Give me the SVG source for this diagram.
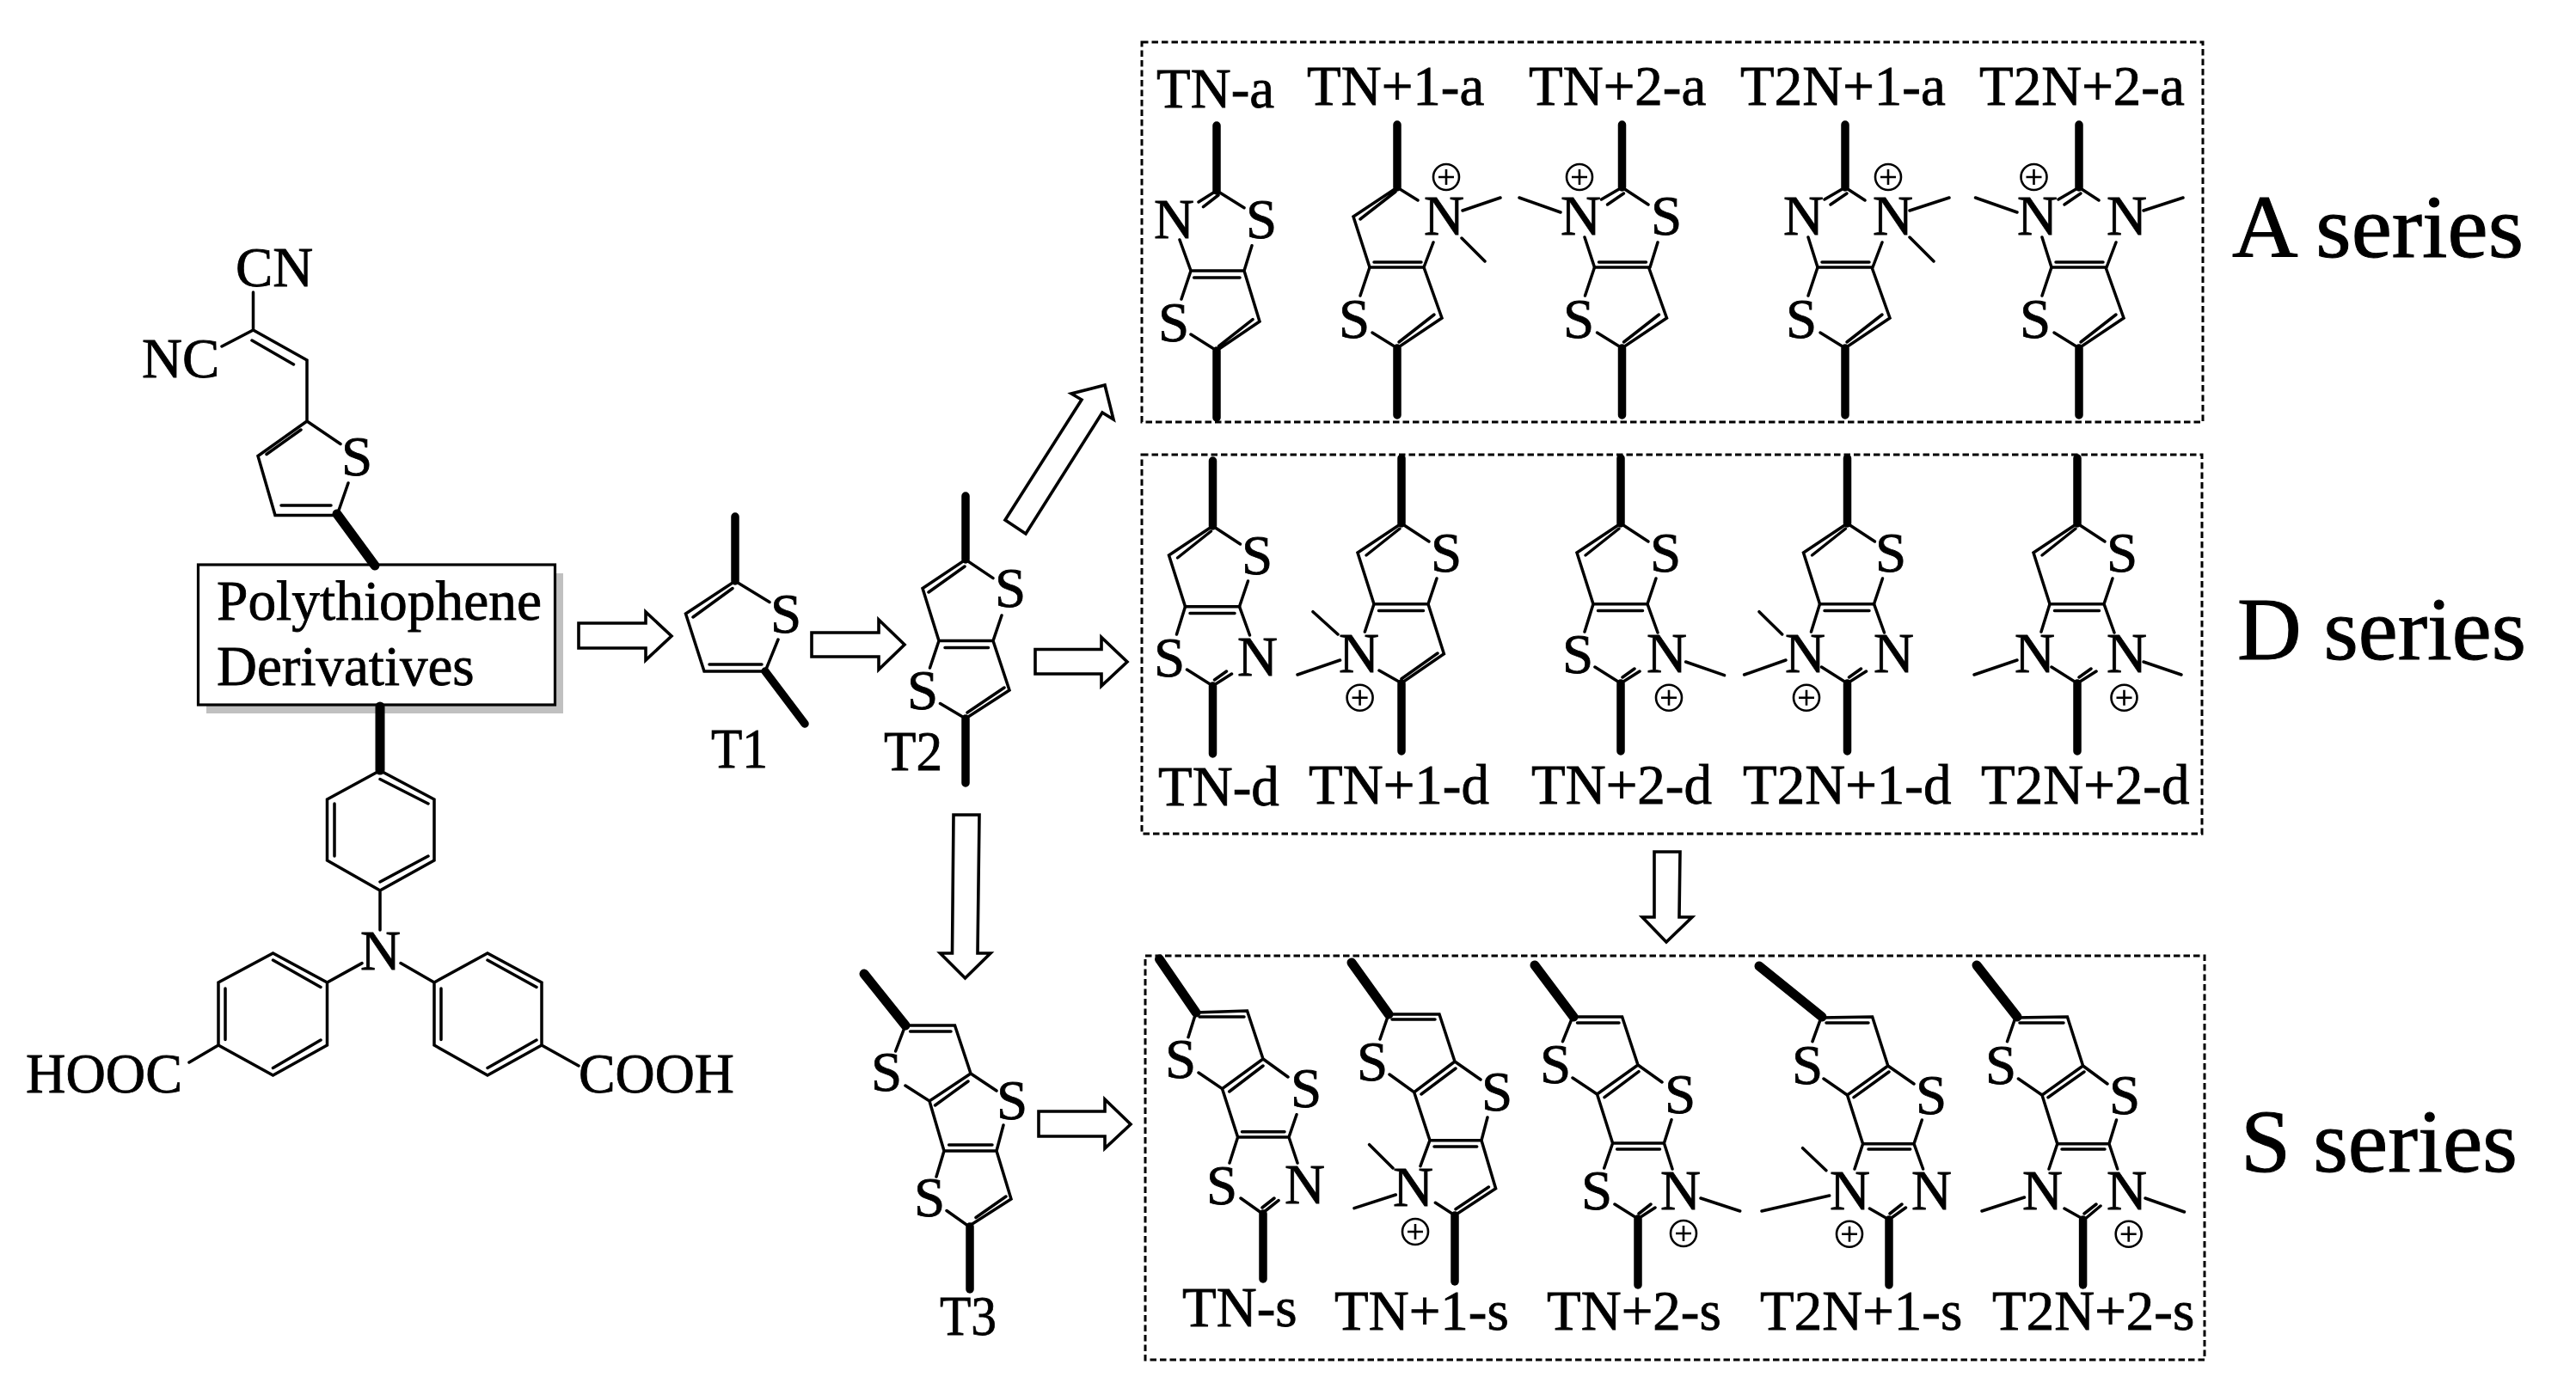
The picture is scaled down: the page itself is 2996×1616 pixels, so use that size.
<svg xmlns="http://www.w3.org/2000/svg" xmlns:xlink="http://www.w3.org/1999/xlink" width="2996" height="1616" viewBox="0 0 2996 1616">
<style>
text{font-family:"Liberation Serif","Times New Roman",serif;fill:#000;stroke:#000;stroke-width:.8;font-size:65px}
.big{font-size:103px;stroke-width:1}
.b{fill:none;stroke:#000;stroke-width:3.5;stroke-linecap:round;stroke-linejoin:miter}
.h{fill:none;stroke:#000;stroke-width:9.5;stroke-linecap:round}
.w{fill:none;stroke:#000;stroke-width:11;stroke-linecap:round}
.a{fill:#fff;stroke:#000;stroke-width:3.6;stroke-linejoin:miter}
.d{fill:none;stroke:#000;stroke-width:3;stroke-dasharray:7.5 4}
</style>
<defs>
<g id="plus"><circle r="15" fill="none" stroke="#000" stroke-width="2.6"/><path d="M-9 0H9M0-9V9" fill="none" stroke="#000" stroke-width="2.6"/></g>
<path id="lowA" class="b" d="M-32 93-43 126M-29 169 0 187 52 152 31 93M2 180 43 148M-27 87H28M-32 93H31"/>
<path id="thA" class="h" d="M0-73V0M0 187V265"/>
<path id="apexN" class="b" d="M0 0-24 14M2 7-17 20"/>
<path id="topD" class="b" d="M0 0-51 34-32 93.7M-2 6-41 37M0 0 32 21M-32 93.7H31M-26.5 101.5H25.5M31 93.7 41 64"/>
<path id="thD" class="h" d="M0-76V0M0 186V265"/>
<path id="lowD" class="b" d="M-32 93.7-42 126M31 93.7 43 127M-30 167 0 186 22 172M2 179 16 169"/>
</defs>

<g id="connectors">
<path class="a" d="M673 725H751V712L781 740 751 768V754H673Z"/>
<path class="a" d="M944 736H1022V721L1052 750 1022 779V764H944Z"/>
<path class="a" d="M1204 755.500H1281V741.500L1311 770 1281 798V784H1204Z"/>
<path class="a" d="M1208 1293H1285V1279L1315 1308 1285 1336V1322H1208Z"/>
<path class="a" d="M1109 948H1139L1137 1109H1152L1122.500 1138 1093.500 1109H1107.500Z"/>
<path class="a" d="M1169 605 1193 621 1282 480 1295 488 1285 448 1246 458 1258 465Z"/>
<path class="a" d="M1924 991H1954L1953 1067H1968L1938 1096 1910 1067H1924Z"/>
</g>

<g id="core-dye">
<rect x="240" y="667" width="415" height="163" fill="#c0c0c0"/>
<rect x="230.500" y="657" width="415" height="163" fill="#fff" stroke="#000" stroke-width="3.2"/>
<text x="252" y="721" textLength="378" lengthAdjust="spacingAndGlyphs">Polythiophene</text>
<text x="252" y="797">Derivatives</text>
<path class="w" d="M392 598 436 658M442 822V896"/>
<text x="274" y="333">CN</text>
<text x="165" y="439">NC</text>
<text x="397" y="553">S</text>
<path class="b" d="M294.500 340V384M258 403 294.500 384 357 419V490L300 530.500 320 599.500H392L405 562M293 396 341.500 424M350 500 310 528.500M327 588H385M357 490 396 516.500"/>
<path class="b" d="M442 896.500 505 930V1001L442 1036 380.500 1001V930ZM442 906.500 498 935M498 996 442 1026M389 935V996M442 1036V1082"/>
<text x="419" y="1128">N</text>
<path class="b" d="M421 1120.600 380.500 1143 317.500 1109 254 1143V1216L317.500 1251 380.500 1216V1143M317.500 1117 373 1148.500M262 1150V1209.500M317.500 1242.500 373 1210M254 1216 220 1236"/>
<path class="b" d="M466 1120.600 505 1143 567 1109 630 1143V1216L567 1251 505 1216V1143M567 1117 624 1148.500M513 1150V1209.500M567 1242.500 624 1210M630 1216 673 1240"/>
<text x="30" y="1271" textLength="182" lengthAdjust="spacingAndGlyphs">HOOC</text>
<text x="673" y="1271" textLength="181" lengthAdjust="spacingAndGlyphs">COOH</text>
</g>

<g id="T1">
<path class="h" d="M855 601V676M890 781 936 842"/>
<path class="b" d="M895 700.500 855 676 797.500 714 819 781H890L905 744M852 684.500 806 718M825 773H886"/>
<text x="896" y="736">S</text>
<text x="827" y="893" textLength="66" lengthAdjust="spacingAndGlyphs">T1</text>
</g>
<g id="T2">
<path class="h" d="M1123 577V651M1123 836V911"/>
<path class="b" d="M1155 672.600 1123 651 1073 684.500 1092 745.500H1155L1165 716M1122 659 1080 689M1099 753.500H1149.500M1092 745.500 1081.500 777M1093.500 818.500 1123 836 1174 803 1155 745.500M1125 829 1168 800"/>
<text x="1157" y="706">S</text>
<text x="1055" y="825">S</text>
<text x="1028" y="896" textLength="68" lengthAdjust="spacingAndGlyphs">T2</text>
</g>
<g id="T3">
<path class="w" d="M1005 1133 1053 1193"/>
<path class="h" d="M1128 1427V1500"/>
<path class="b" d="M1041.600 1223 1053 1193H1110.500L1129 1249 1081 1281 1053 1263M1058.600 1200H1106M1087.500 1286 1126 1258M1129 1249 1159 1269M1159 1339 1167 1309M1081 1281 1098 1339H1159L1176 1395 1126.600 1426.600 1101 1408.500M1103.600 1332H1154M1098 1339 1089 1369M1135 1416.500 1170 1392"/>
<text x="1013" y="1269">S</text>
<text x="1159" y="1302">S</text>
<text x="1063" y="1415">S</text>
<text x="1093" y="1553" textLength="66" lengthAdjust="spacingAndGlyphs">T3</text>
</g>

<g id="a-series">
<rect class="d" x="1328" y="49" width="1234" height="442"/>
<text class="big" x="2596" y="299" textLength="339" lengthAdjust="spacingAndGlyphs">A series</text>
</g>
<g id="TN-a">
<text x="1345" y="125">TN-a</text>
<path class="h" d="M1415 146V222M1415 408V486"/>
<path class="b" d="M1415 221.700 1394 235M1417 227 1399.500 240.700M1415 221.700 1447 241.700M1385 315H1447M1388.600 323H1442M1372 279 1385 315 1374 348M1456 285.700 1447 315 1465 374 1415 408 1385 389M1417.600 402.700 1457 371.700"/>
<text x="1342" y="277">N</text>
<text x="1449" y="277">S</text>
<text x="1347" y="397">S</text>
</g>
<g id="TN1-a">
<text x="1520" y="122">TN+1-a</text>
<use href="#lowA" xlink:href="#lowA" x="1625" y="218"/>
<use href="#thA" xlink:href="#thA" x="1625" y="218"/>
<path class="b" d="M1649 233 1625 218 1574 252 1593 311M1623 223 1582 255M1667 282 1656 311M1701 245 1745 230M1700 277 1727 304"/>
<text x="1656" y="273">N</text>
<text x="1557" y="393">S</text>
<use href="#plus" xlink:href="#plus" x="1682" y="206"/>
</g>
<g id="TN2-a">
<text x="1778" y="122">TN+2-a</text>
<use href="#lowA" xlink:href="#lowA" x="1886.500" y="218"/>
<use href="#thA" xlink:href="#thA" x="1886.500" y="218"/>
<use href="#apexN" xlink:href="#apexN" x="1886.500" y="218"/>
<path class="b" d="M1886.500 218 1917 238M1843 276 1854.500 311M1928 282 1919 311M1767 230 1815 247"/>
<text x="1815" y="273">N</text>
<text x="1920" y="273">S</text>
<text x="1818" y="393">S</text>
<use href="#plus" xlink:href="#plus" x="1837" y="206"/>
</g>
<g id="T2N1-a">
<text x="2024" y="122">T2N+1-a</text>
<use href="#lowA" xlink:href="#lowA" x="2146" y="218"/>
<use href="#thA" xlink:href="#thA" x="2146" y="218"/>
<use href="#apexN" xlink:href="#apexN" x="2146" y="218"/>
<path class="b" d="M2146 218 2169 233M2103 276 2114 311M2189 282 2178 311M2221 245 2267 230M2221 276 2249 304"/>
<text x="2074" y="273">N</text>
<text x="2178" y="273">N</text>
<text x="2077" y="393">S</text>
<use href="#plus" xlink:href="#plus" x="2196" y="206"/>
</g>
<g id="T2N2-a">
<text x="2302" y="122">T2N+2-a</text>
<use href="#lowA" xlink:href="#lowA" x="2418" y="218"/>
<use href="#thA" xlink:href="#thA" x="2418" y="218"/>
<use href="#apexN" xlink:href="#apexN" x="2418" y="218"/>
<path class="b" d="M2418 218 2441 233M2375 276 2386 311M2461 282 2450 311M2297.500 230 2346 247M2493 245 2539 230"/>
<text x="2346" y="273">N</text>
<text x="2450" y="273">N</text>
<text x="2349" y="393">S</text>
<use href="#plus" xlink:href="#plus" x="2365.500" y="206"/>
</g>

<g id="d-series">
<rect class="d" x="1328" y="529" width="1233" height="441"/>
<text class="big" x="2602" y="767" textLength="336" lengthAdjust="spacingAndGlyphs">D series</text>
</g>
<g id="TN-d">
<use href="#topD" xlink:href="#topD" x="1410.500" y="612"/>
<use href="#thD" xlink:href="#thD" x="1410.500" y="612"/>
<use href="#lowD" xlink:href="#lowD" x="1410.500" y="612"/>
<text x="1444" y="668">S</text>
<text x="1342" y="787">S</text>
<text x="1439" y="786">N</text>
<text x="1347" y="937">TN-d</text>
</g>
<g id="TN1-d">
<use href="#topD" xlink:href="#topD" x="1630" y="609"/>
<use href="#thD" xlink:href="#thD" x="1630" y="609"/>
<path class="b" d="M1598 702.700 1587.400 735M1661 702.700 1679.400 760.700 1630 794.700 1604 780M1672 760 1630 789.700M1527 711.700 1556 738M1509 785 1558.600 768"/>
<text x="1664" y="665">S</text>
<text x="1557" y="782">N</text>
<use href="#plus" xlink:href="#plus" x="1581.600" y="811.700"/>
<text x="1522" y="935">TN+1-d</text>
</g>
<g id="TN2-d">
<use href="#topD" xlink:href="#topD" x="1885" y="609"/>
<use href="#thD" xlink:href="#thD" x="1885" y="609"/>
<use href="#lowD" xlink:href="#lowD" x="1885" y="609"/>
<path class="b" d="M1960.600 770 2005.600 785.700"/>
<text x="1919" y="665">S</text>
<text x="1817" y="783">S</text>
<text x="1915" y="782">N</text>
<use href="#plus" xlink:href="#plus" x="1941" y="811.700"/>
<text x="1781" y="935">TN+2-d</text>
</g>
<g id="T2N1-d">
<use href="#topD" xlink:href="#topD" x="2148.500" y="609"/>
<use href="#thD" xlink:href="#thD" x="2148.500" y="609"/>
<use href="#lowD" xlink:href="#lowD" x="2148.500" y="609"/>
<path class="b" d="M2046 711.700 2072.700 738M2028.600 785 2077 768"/>
<text x="2181" y="665">S</text>
<text x="2076" y="782">N</text>
<text x="2179" y="782">N</text>
<use href="#plus" xlink:href="#plus" x="2101" y="811.700"/>
<text x="2027" y="935">T2N+1-d</text>
</g>
<g id="T2N2-d">
<use href="#topD" xlink:href="#topD" x="2416" y="609"/>
<use href="#thD" xlink:href="#thD" x="2416" y="609"/>
<use href="#lowD" xlink:href="#lowD" x="2416" y="609"/>
<path class="b" d="M2296 785 2346 768M2493 770 2537 785"/>
<text x="2450" y="665">S</text>
<text x="2343" y="782">N</text>
<text x="2450" y="782">N</text>
<use href="#plus" xlink:href="#plus" x="2470.500" y="811.700"/>
<text x="2304" y="935">T2N+2-d</text>
</g>

<g id="s-series">
<rect class="d" x="1332" y="1112" width="1232" height="470"/>
<text class="big" x="2606" y="1363" textLength="322" lengthAdjust="spacingAndGlyphs">S series</text>
</g>
<g id="TN-s">
<path class="w" d="M1348.500 1116 1391 1178"/>
<path class="h" d="M1469 1412V1488"/>
<path class="b" d="M1382 1206.700 1391 1178 1450.500 1176 1469 1232 1421.500 1266.700 1394 1248M1395 1183H1447M1429.700 1270 1469 1240M1469 1232 1498 1253M1421.500 1266.700 1439.600 1323H1499L1508 1296.700M1444.500 1316.700H1494M1439.600 1323 1430 1353M1499 1323 1509 1353M1443 1394 1468 1411.700 1487 1396.700M1468 1405 1482 1394"/>
<text x="1355" y="1254">S</text>
<text x="1501" y="1288">S</text>
<text x="1403" y="1401">S</text>
<text x="1494" y="1400">N</text>
<text x="1375" y="1543">TN-s</text>
</g>
<g id="TN1-s">
<path class="w" d="M1572 1120 1615 1180"/>
<path class="h" d="M1692 1414V1491"/>
<path class="b" d="M1605 1209 1615 1180H1674L1692 1235 1644.700 1270.700 1616 1250M1619 1186H1669M1653 1273 1693 1243M1692 1235 1722 1256M1644.700 1270.700 1663 1326.700H1723L1730 1300M1668 1334H1717.700M1663 1326.700 1652 1356.700M1723 1326.700 1739.600 1382.700 1692 1414 1669.400 1399.300M1731.400 1381 1693 1406.700M1592.600 1331.700 1620 1359M1575 1405.700 1623.300 1390"/>
<text x="1578" y="1257">S</text>
<text x="1723" y="1292">S</text>
<text x="1620" y="1403">N</text>
<use href="#plus" xlink:href="#plus" x="1646" y="1433"/>
<text x="1552" y="1547">TN+1-s</text>
</g>
<g id="TN2-s">
<path class="w" d="M1785 1123 1830 1183"/>
<path class="h" d="M1905 1418V1495"/>
<path class="b" d="M1817.500 1211.700 1829 1183H1886.600L1905 1239 1857.500 1273 1829 1254M1834.500 1190H1883M1866 1276.700 1906 1246.700M1905 1239 1933 1259M1857.500 1273 1875.600 1330H1935.400L1944 1302.700M1880.600 1337H1930.500M1875.600 1330 1865.700 1359M1935.400 1330 1945 1360M1878 1401 1905 1418 1925 1405M1906 1412 1920 1401M1978 1394 2023.700 1409"/>
<text x="1791" y="1260">S</text>
<text x="1936" y="1295">S</text>
<text x="1839" y="1407">S</text>
<text x="1931" y="1407">N</text>
<use href="#plus" xlink:href="#plus" x="1958" y="1435"/>
<text x="1799" y="1547">TN+2-s</text>
</g>
<g id="T2N1-s">
<path class="w" d="M2046 1124 2119 1183"/>
<path class="h" d="M2197 1419V1495"/>
<path class="b" d="M2108 1211.700 2118 1184 2177.600 1183 2195.800 1240 2148.500 1274 2121 1255M2124 1190H2173M2156 1276.700 2197 1247M2195.800 1240 2226 1261M2148.500 1274 2166.600 1330.700H2226L2235.300 1303M2173 1337H2221.700M2166.600 1330.700 2157 1360M2226 1330.700 2236.600 1360M2174.400 1406 2197 1419 2216.500 1405M2198 1412 2212 1401M2096.600 1335.700 2123.900 1361.700M2049 1409 2127.700 1391"/>
<text x="2084" y="1261">S</text>
<text x="2228" y="1296">S</text>
<text x="2128" y="1407">N</text>
<text x="2223" y="1407">N</text>
<use href="#plus" xlink:href="#plus" x="2151" y="1435.700"/>
<text x="2047" y="1547">T2N+1-s</text>
</g>
<g id="T2N2-s">
<path class="w" d="M2299 1123 2346 1183"/>
<path class="h" d="M2422.600 1419V1495"/>
<path class="b" d="M2334.500 1211.700 2344 1184 2404.400 1183 2422.600 1240 2375 1274 2347.400 1255M2349 1190H2400M2382 1276.700 2424 1247M2422.600 1240 2451 1261M2375 1274 2392.800 1330.700H2453L2461.500 1303M2398 1337H2448M2392.800 1330.700 2383 1360M2453 1330.700 2462.700 1360M2401 1406 2424 1419 2443 1403M2424 1412 2438 1401M2305 1409 2354.500 1393M2495 1394 2540.500 1410"/>
<text x="2309" y="1261">S</text>
<text x="2453" y="1296">S</text>
<text x="2352" y="1407">N</text>
<text x="2450" y="1407">N</text>
<use href="#plus" xlink:href="#plus" x="2475.700" y="1435.700"/>
<text x="2317" y="1547">T2N+2-s</text>
</g>
</svg>
